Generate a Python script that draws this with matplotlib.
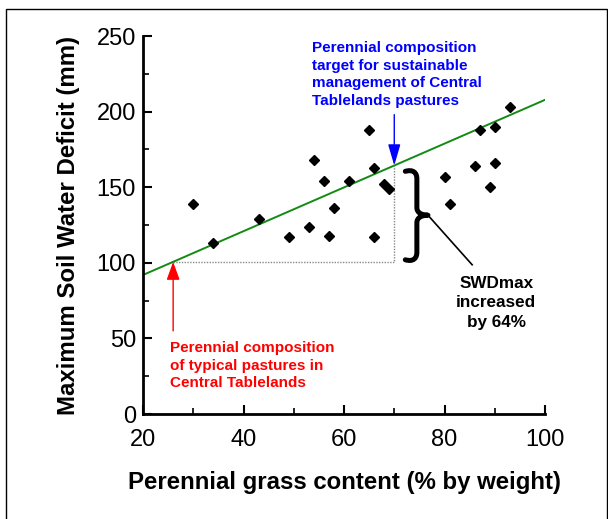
import numpy as np
import matplotlib
matplotlib.use('Agg')
import matplotlib.pyplot as plt
from matplotlib.patches import Rectangle, PathPatch
from matplotlib.path import Path

plt.rcParams['font.family'] = ['Liberation Sans', 'DejaVu Sans']

# perennial grass content (%) and max soil water deficit (mm)
grass = [30, 34, 43, 49, 53, 54, 56, 57, 58, 61, 65, 66, 66, 68, 69,
         80, 81, 86, 87, 89, 90, 90, 93]
swd = [139, 113, 129, 117, 124, 168, 154, 118, 136, 154, 188, 163, 117, 152, 149,
       157, 139, 164, 188, 150, 190, 166, 203]

fit_slope = 1.448
fit_intercept = 63.0
typical = 26     # typical perennial composition
target = 70      # target perennial composition

x_ticks = [20, 40, 60, 80, 100]
y_ticks = [0, 50, 100, 150, 200, 250]

fig = plt.figure(figsize=(6.08, 5.19), dpi=100)
ax = fig.add_axes([0.2352, 0.2023, 0.6612, 0.7283])

# frame around the figure
fig.patches.append(Rectangle((6 / 608, -0.05), 601 / 608, 1.05 - 9 / 519,
                             transform=fig.transFigure, fill=False,
                             edgecolor='black', linewidth=1))

xs = np.array([20, 100])
ax.plot(xs, fit_intercept + fit_slope * xs, color='#138a13', linewidth=1.4, zorder=2)

y_typ = fit_intercept + fit_slope * typical
y_tar = fit_intercept + fit_slope * target
ax.plot([typical, target, target], [y_typ, y_typ, y_tar], color='#888888',
        linestyle=(0, (1, 1)), linewidth=1.0, zorder=1)

ax.plot(grass, swd, linestyle='none', marker='D', markersize=5.3,
        color='black', zorder=3)

# arrows
ax.annotate('', xy=(typical, y_typ), xytext=(typical, 55),
            arrowprops=dict(arrowstyle='-|>,head_length=1.1,head_width=0.4',
                            color='red', linewidth=1.0, shrinkA=0, shrinkB=0))
ax.annotate('', xy=(target, y_tar), xytext=(target, 198),
            arrowprops=dict(arrowstyle='-|>,head_length=1.3,head_width=0.38',
                            color='blue', linewidth=1.0, shrinkA=0, shrinkB=0))

ax.text(53.6, 247, 'Perennial composition\ntarget for sustainable\nmanagement of Central\nTablelands pastures',
        color='blue', fontsize=11, fontweight='bold', ha='left', va='top',
        linespacing=1.36)
ax.text(25.4, 48, 'Perennial composition\nof typical pastures in\nCentral Tablelands',
        color='red', fontsize=11, fontweight='bold', ha='left', va='top',
        linespacing=1.3)
ax.text(90.3, 91.5, 'SWDmax\nincreased\nby 64%', color='black', fontsize=12.3,
        fontweight='bold', ha='center', va='top', linespacing=1.4)

# curly brace between the two SWD levels, and its pointer
bx, tip = 74.5, 76.7
top, mid, bot = 160.5, 131.5, 102.0
brace = Path([(72.2, top), (73.8, top + 1.5), (bx, top - 1), (bx, top - 5),
              (bx, mid + 5),
              (bx, mid + 1.5), (75.5, mid), (tip, mid),
              (75.5, mid), (bx, mid - 1.5), (bx, mid - 5),
              (bx, bot + 5),
              (bx, bot + 1), (73.8, bot - 1.5), (72.2, bot)],
             [Path.MOVETO, Path.CURVE4, Path.CURVE4, Path.CURVE4,
              Path.LINETO,
              Path.CURVE4, Path.CURVE4, Path.CURVE4,
              Path.CURVE4, Path.CURVE4, Path.CURVE4,
              Path.LINETO,
              Path.CURVE4, Path.CURVE4, Path.CURVE4])
ax.add_patch(PathPatch(brace, fill=False, edgecolor='black', linewidth=3.6,
                       capstyle='round', joinstyle='round'))
ax.plot([tip, 85.5], [mid, 98.7], color='black', linewidth=1.2)

ax.set_xlim(20, 100)
ax.set_ylim(0, 250)
ax.set_xticks(x_ticks)
ax.set_yticks(y_ticks)
ax.set_xticks(np.arange(30, 100, 20), minor=True)
ax.set_yticks(np.arange(25, 250, 50), minor=True)
ax.tick_params(direction='in', labelsize=17, width=1.5, length=6.5)
ax.tick_params(axis='x', pad=11)
ax.tick_params(axis='y', pad=5)
ax.tick_params(which='minor', direction='in', width=1.2, length=4)
for s in ['top', 'right']:
    ax.spines[s].set_visible(False)
for s in ['left', 'bottom']:
    ax.spines[s].set_linewidth(2)

ax.set_xlabel('Perennial grass content (% by weight)', fontsize=17.3,
              fontweight='bold', labelpad=14)
ax.set_ylabel('Maximum Soil Water Deficit (mm)', fontsize=17.3,
              fontweight='bold', labelpad=12)

fig.savefig('out.png', dpi=100)
